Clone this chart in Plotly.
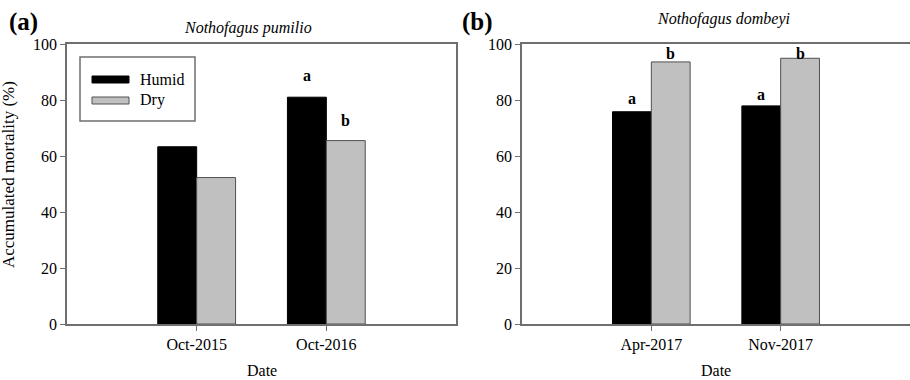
import plotly.graph_objects as go

# ---- data ----
dates_a = ["Oct-2015", "Oct-2016"]
humid_a = [63.3, 81.0]
dry_a = [52.3, 65.5]
letters_humid_a = ["", "a"]
letters_dry_a = ["", "b"]

dates_b = ["Apr-2017", "Nov-2017"]
humid_b = [75.8, 77.9]
dry_b = [93.6, 94.9]
letters_humid_b = ["a", "a"]
letters_dry_b = ["b", "b"]

series_names = ["Humid", "Dry"]
species = ["Nothofagus pumilio", "Nothofagus dombeyi"]
panel_tags = ["(a)", "(b)"]
y_ticks = [0, 20, 40, 60, 80, 100]

# ---- layout geometry (pixels) ----
W, H = 910, 380
ML, MR, MT, MB = 67, 0, 44, 56
PW = W - ML - MR
PH = H - MT - MB


def px(x):
    return (x - ML) / PW


def py(y):
    return (H - MB - y) / PH


FONT = "Liberation Serif, Times New Roman, serif"
AX = "#6f6f6f"
HUMID = "#000000"
DRY = "#c0c0c0"

fig = go.Figure()

panels = [
    (dates_a, humid_a, dry_a, letters_humid_a, letters_dry_a, "x", "y"),
    (dates_b, humid_b, dry_b, letters_humid_b, letters_dry_b, "x2", "y2"),
]

for dates, hum, dry, lh, ld, xa, ya in panels:
    fig.add_trace(go.Bar(x=dates, y=hum, name=series_names[0], xaxis=xa, yaxis=ya,
                         marker=dict(color=HUMID, line=dict(color="#000000", width=1)),
                         showlegend=False, offsetgroup="h"))
    fig.add_trace(go.Bar(x=dates, y=dry, name=series_names[1], xaxis=xa, yaxis=ya,
                         marker=dict(color=DRY, line=dict(color="#505050", width=1)),
                         showlegend=False, offsetgroup="d"))

ann = []
# significance letters
letter_shift = {("x", 1, "h"): 14, ("x", 1, "d"): 13,
                ("x2", 0, "h"): 6, ("x2", 0, "d"): 1,
                ("x2", 1, "h"): 4, ("x2", 1, "d"): -3}
for dates, hum, dry, lh, ld, xa, ya in panels:
    for i in range(len(dates)):
        for val, let, off, key in ((hum[i], lh[i], -0.15, "h"), (dry[i], ld[i], 0.15, "d")):
            if not let:
                continue
            ann.append(dict(x=i + off, y=val, xref=xa, yref=ya, text="<b>%s</b>" % let,
                            showarrow=False, yanchor="bottom", xanchor="center",
                            yshift=letter_shift.get((xa, i, key), 5) - 3,
                            font=dict(family=FONT, size=16, color="black")))

# panel tags
for tag, xpix in zip(panel_tags, [7, 460]):
    ann.append(dict(x=px(xpix), y=py(22), xref="paper", yref="paper", text="<b>%s</b>" % tag,
                    showarrow=False, xanchor="left", yanchor="middle",
                    font=dict(family=FONT, size=25, color="black")))
# species subtitles
for sp, xpix, ypix in zip(species, [248, 723], [28, 19]):
    ann.append(dict(x=px(xpix), y=py(ypix), xref="paper", yref="paper", text="<i>%s</i>" % sp,
                    showarrow=False, xanchor="center", yanchor="middle",
                    font=dict(family=FONT, size=16, color="black")))
# axis titles
ann.append(dict(x=px(8), y=py(175), xref="paper", yref="paper", text="Accumulated mortality (%)",
                showarrow=False, textangle=-90, xanchor="center", yanchor="middle",
                font=dict(family=FONT, size=17, color="black")))
for xpix in [262, 716]:
    ann.append(dict(x=px(xpix), y=py(380), xref="paper", yref="paper", text="Date",
                    showarrow=False, xanchor="center", yanchor="bottom", borderpad=0,
                    font=dict(family=FONT, size=16, color="black")))
# legend
legend_rows = [(series_names[0], HUMID, "#000000", 79.5), (series_names[1], DRY, "#505050", 100.5)]
shapes = [dict(type="rect", xref="paper", yref="paper", x0=px(80), x1=px(195), y0=py(57), y1=py(121),
               line=dict(color=AX, width=1.5), fillcolor="white", layer="above")]
for name, fill, line, yc in legend_rows:
    shapes.append(dict(type="rect", xref="paper", yref="paper", x0=px(92), x1=px(129),
                       y0=py(yc - 3.5), y1=py(yc + 3.5), fillcolor=fill,
                       line=dict(color=line, width=1), layer="above"))
    ann.append(dict(x=px(138), y=py(yc), xref="paper", yref="paper", text=name, showarrow=False,
                    xanchor="left", yanchor="middle", font=dict(family=FONT, size=16, color="black")))

axis_common = dict(showline=True, linecolor=AX, linewidth=1.5, ticks="outside", tickcolor=AX,
                   ticklen=5, tickwidth=1.2, showgrid=False, zeroline=False,
                   tickfont=dict(family=FONT, size=16, color="black"))

fig.update_layout(
    width=W, height=H, margin=dict(l=ML, r=MR, t=MT, b=MB),
    paper_bgcolor="white", plot_bgcolor="white",
    font=dict(family=FONT, size=16, color="black"),
    barmode="group", bargap=0.4, bargroupgap=0,
    annotations=ann, shapes=shapes,
    xaxis=dict(domain=[0, px(456)], anchor="y", range=[-1, 2], type="category",
               mirror=True, **axis_common),
    yaxis=dict(domain=[0, 1], anchor="x", range=[0, 100], tickvals=y_ticks,
               mirror=True, **axis_common),
    xaxis2=dict(domain=[px(522), 1.0], anchor="y2", range=[-1, 2], type="category",
                mirror=True, **axis_common),
    yaxis2=dict(domain=[0, 1], anchor="x2", range=[0, 100], tickvals=y_ticks,
                mirror=False, **axis_common),
    showlegend=False,
)

fig.write_html("out.html", config={"displayModeBar": False},
               post_script="document.body.style.margin='0';document.body.style.overflow='hidden';")
